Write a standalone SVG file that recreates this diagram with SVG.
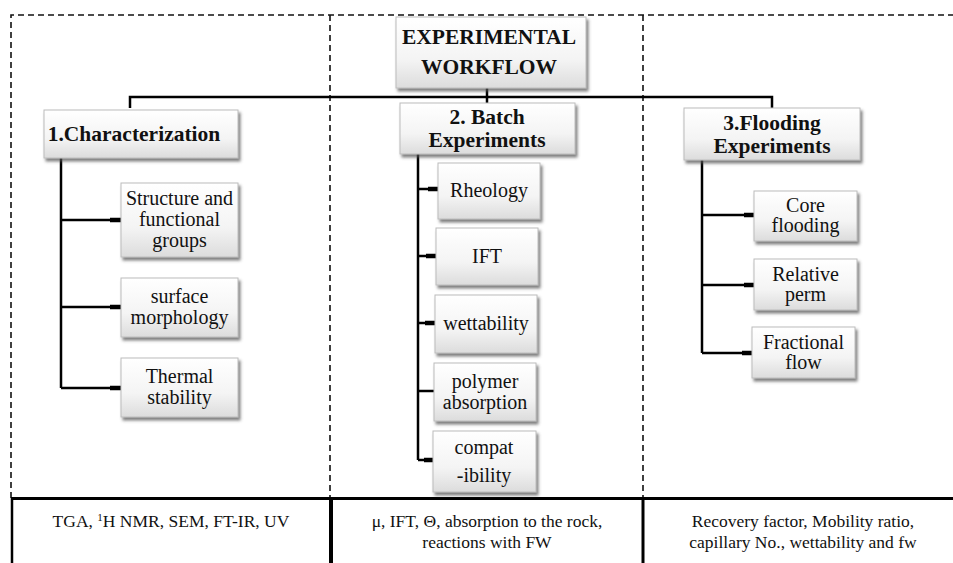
<svg xmlns="http://www.w3.org/2000/svg" width="953" height="563" viewBox="0 0 953 563">
<defs>
<linearGradient id="g" x1="0" y1="0" x2="0" y2="1">
<stop offset="0" stop-color="#ffffff"/>
<stop offset="0.6" stop-color="#f4f4f4"/>
<stop offset="1" stop-color="#dcdcdc"/>
</linearGradient>
<filter id="sh" x="-10%" y="-10%" width="125%" height="135%">
<feDropShadow dx="2" dy="3" stdDeviation="1.6" flood-color="#555" flood-opacity="0.75"/>
</filter>
</defs>
<style>
.box{fill:url(#g);stroke:#bcbcbc;stroke-width:1;filter:url(#sh)}
text{font-family:'Liberation Serif','DejaVu Serif',serif;font-size:20px;fill:#111;text-anchor:middle}
.b{font-weight:bold;font-size:21.5px}
.s{font-size:17.5px}
.ln{stroke:#000;stroke-width:2.5;fill:none}
.stub{stroke:#000;stroke-width:4.5;fill:none}
.dash{stroke:#111;stroke-width:1.6;stroke-dasharray:6 4;fill:none}
.tab{stroke:#000;fill:none}
</style>
<rect width="953" height="563" fill="#fff"/>
<g id="frame">
<path class="dash" d="M11,498 V15 H953"/>
<path class="dash" d="M330,15 V498"/>
<path class="dash" d="M643,15 V498"/>
<path class="tab" stroke-width="3" d="M11,498.5 H953"/>
<path class="tab" stroke-width="2.5" d="M12,498 V563"/>
<path class="tab" stroke-width="4" d="M331,498 V563"/>
<path class="tab" stroke-width="3" d="M643,498 V563"/>
</g>
<g id="connectors">
<path class="ln" d="M130,108 V97 H772 V108"/>
<path class="ln" d="M487,88 V104"/>
<path class="ln" d="M61,158 V388"/>
<path class="ln" d="M61,220 H121 M61,307 H121 M61,388 H121"/>
<path class="stub" d="M110,220 H121 M110,307 H121 M110,388 H121"/>
<path class="ln" d="M418,154 V460"/>
<path class="ln" d="M418,189 H438 M418,256 H436 M418,323 H435 M418,391 H434 M418,460 H433"/>
<path class="stub" d="M428,189 H438 M426,256 H436 M425,323 H435 M424,460 H433"/>
<path class="ln" d="M702,160 V353"/>
<path class="ln" d="M702,215 H754 M702,285 H754 M702,353 H752"/>
<path class="stub" d="M744,215 H754 M744,285 H754 M742,353 H752"/>
</g>
<g id="n0"><rect class="box" x="396" y="17" width="190" height="71"/>
<text class="b" x="489" y="44">EXPERIMENTAL</text><text class="b" x="489" y="74">WORKFLOW</text></g>
<g id="n1"><rect class="box" x="44" y="110" width="194" height="48"/>
<text class="b" x="134" y="141">1.Characterization</text></g>
<g id="n2"><rect class="box" x="400" y="103" width="175" height="51"/>
<text class="b" x="487" y="124">2. Batch</text><text class="b" x="487" y="147">Experiments</text></g>
<g id="n3"><rect class="box" x="684" y="108" width="176" height="52"/>
<text class="b" x="772" y="130">3.Flooding</text><text class="b" x="772" y="153">Experiments</text></g>
<g id="n1a"><rect class="box" x="121" y="183" width="117" height="74"/>
<text x="179.5" y="205">Structure and</text><text x="179.5" y="226">functional</text><text x="179.5" y="247">groups</text></g>
<g id="n1b"><rect class="box" x="121" y="278" width="117" height="59"/>
<text x="179.5" y="303">surface</text><text x="179.5" y="324">morphology</text></g>
<g id="n1c"><rect class="box" x="121" y="358" width="117" height="59"/>
<text x="179.5" y="383">Thermal</text><text x="179.5" y="404">stability</text></g>
<g id="n2a"><rect class="box" x="438" y="163" width="102" height="56"/>
<text x="489" y="197">Rheology</text></g>
<g id="n2b"><rect class="box" x="436" y="228" width="102" height="57"/>
<text x="487" y="263">IFT</text></g>
<g id="n2c"><rect class="box" x="435" y="295" width="102" height="58"/>
<text x="486" y="330">wettability</text></g>
<g id="n2d"><rect class="box" x="434" y="363" width="102" height="58"/>
<text x="485" y="388">polymer</text><text x="485" y="409">absorption</text></g>
<g id="n2e"><rect class="box" x="433" y="431" width="103" height="61"/>
<text x="484" y="454">compat</text><text x="484" y="482">-ibility</text></g>
<g id="n3a"><rect class="box" x="754" y="191" width="103" height="50"/>
<text x="805.5" y="212">Core</text><text x="805.5" y="232">flooding</text></g>
<g id="n3b"><rect class="box" x="754" y="259" width="103" height="51"/>
<text x="805.5" y="281">Relative</text><text x="805.5" y="301">perm</text></g>
<g id="n3c"><rect class="box" x="752" y="327" width="103" height="51"/>
<text x="803.5" y="349">Fractional</text><text x="803.5" y="369">flow</text></g>
<g id="table">
<text class="s" x="171" y="527">TGA, <tspan font-size="11" dy="-6">1</tspan><tspan dy="6">H NMR, SEM, FT-IR, UV</tspan></text>
<text class="s" x="487" y="527">μ, IFT, Θ, absorption to the rock,</text>
<text class="s" x="487" y="548">reactions with FW</text>
<text class="s" x="803" y="527">Recovery factor, Mobility ratio,</text>
<text class="s" x="803" y="548">capillary No., wettability and fw</text>
</g>
</svg>
